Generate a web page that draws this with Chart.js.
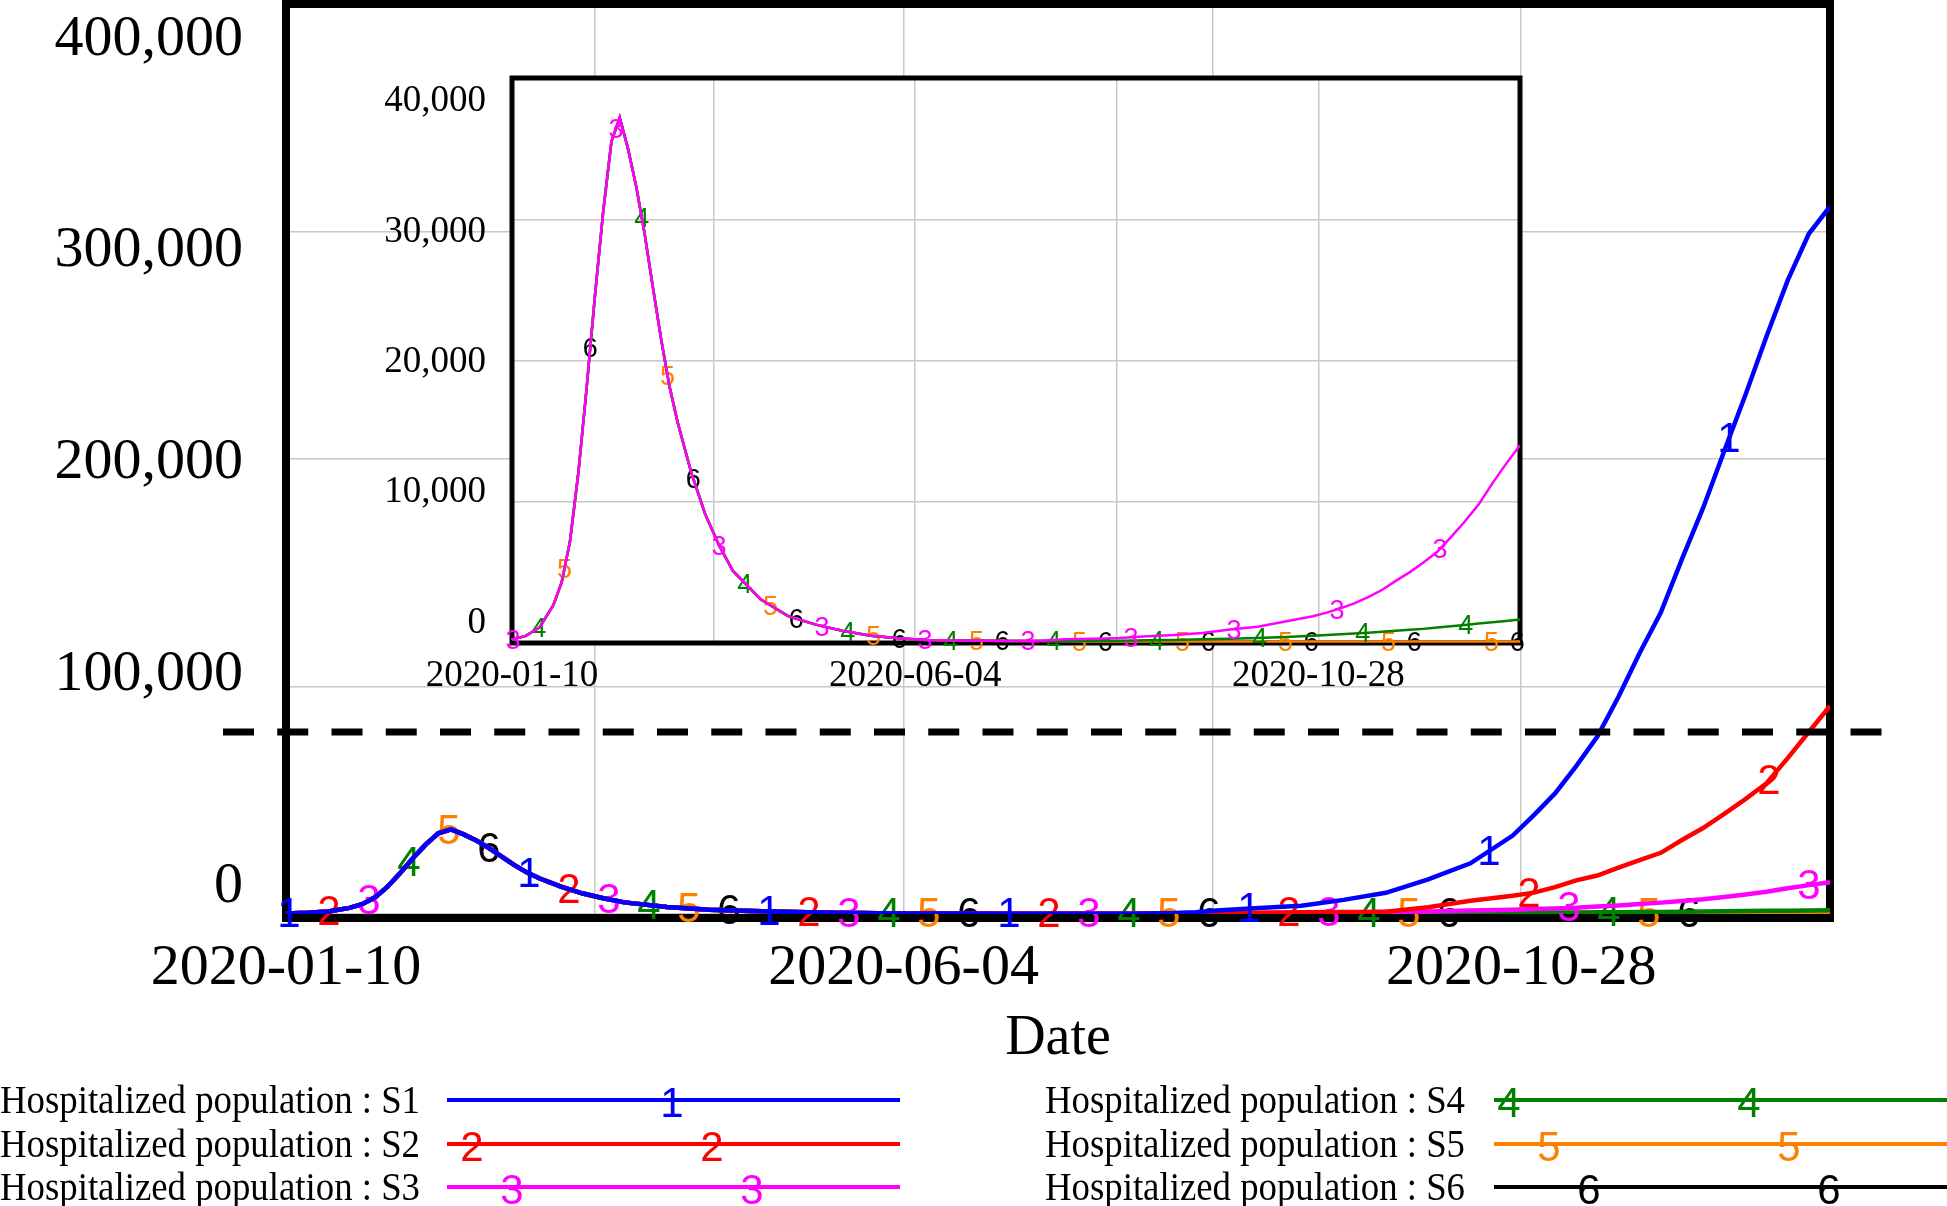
<!DOCTYPE html>
<html>
<head>
<meta charset="utf-8">
<script src="https://cdn.jsdelivr.net/npm/chart.js@4.4.1/dist/chart.umd.min.js"></script>
<style>
  html, body { margin: 0; padding: 0; background: #fff; }
  #wrap { position: relative; width: 1947px; height: 1206px; overflow: hidden; }
  #wrap canvas { position: absolute; left: 0; top: 0; }
  .lg-text { position: absolute; font: 40px "Liberation Serif", "Times New Roman", serif; line-height: 40px; white-space: nowrap; transform-origin: 0 50%; color: #000; }
  .lg-line { position: absolute; height: 4px; }
  .lg-mark { position: absolute; font: 42px "Liberation Sans", Arial, sans-serif; line-height: 42px; transform: translate(-50%, -50%); }
</style>
</head>
<body>
<div id="wrap">
  <canvas id="mainChart" width="1947" height="1206"></canvas>
  <canvas id="insetChart" width="1947" height="1206"></canvas>
  <div id="legend"></div>
</div>
<script>
// days since 2020-01-10
const days = [0, 5, 10, 15, 18, 21, 24, 27, 30, 33,
  36, 39, 42, 45, 48, 51, 54, 57, 60, 65,
  70, 75, 80, 90, 100, 110, 120, 130, 140, 150,
  160, 170, 180, 190,
  200, 210, 215, 220, 230, 240, 250, 260, 270, 280,
  290, 295, 300, 305, 310, 315, 320, 325, 330, 335,
  340, 345, 350, 355, 360, 365];

// first wave, same in every scenario (days 0-190)
const earlyAll = [250, 500, 1100, 2700, 4300, 7200, 12000, 18000, 24500, 30500,
  35500, 37200, 35000, 32300, 29000, 25200, 21500, 18200, 15600, 12000,
  9100, 6900, 5100, 3100, 1900, 1300, 850, 520, 330, 220,
  180, 160, 150, 150];

// days 200-365 per scenario
const s1Late = [150, 400, 800, 1500, 2600, 3600, 6200, 9300, 15200, 22300,
  34500, 43500, 53000, 65000, 78000, 95500, 114700, 132500, 156000, 178500,
  203500, 228100, 254000, 278500, 299000, 311000];
const s2Late = [150, 200, 250, 300, 500, 800, 900, 1000, 3000, 5800,
  8000, 9400, 11800, 14800, 16900, 20400, 23700, 26900, 32500, 37800,
  44000, 50500, 57500, 68500, 80000, 91500];
const s3Late = [260, 300, 320, 350, 480, 560, 700, 950, 1150, 1520,
  1900, 2150, 2450, 2800, 3250, 3750, 4400, 5000, 5700, 6450,
  7500, 8600, 9800, 11300, 12700, 14000];
const s4Late = [140, 150, 155, 160, 190, 220, 260, 300, 360, 430,
  520, 570, 620, 670, 730, 790, 860, 930, 1000, 1090,
  1180, 1280, 1380, 1470, 1560, 1660];
const s5Late = [120, 110, 110, 105, 100, 100, 100, 100, 100, 100,
  100, 100, 100, 100, 100, 100, 100, 100, 100, 100,
  100, 100, 100, 100, 100, 100];
const s6Late = [110, 100, 95, 90, 90, 90, 90, 90, 90, 90,
  90, 90, 90, 90, 90, 90, 90, 90, 90, 90,
  90, 90, 90, 90, 90, 90];

const s1 = earlyAll.concat(s1Late);
const s2 = earlyAll.concat(s2Late);
const s3 = earlyAll.concat(s3Late);
const s4 = earlyAll.concat(s4Late);
const s5 = earlyAll.concat(s5Late);
const s6 = earlyAll.concat(s6Late);

const seriesNames = ['Hospitalized population : S1', 'Hospitalized population : S2', 'Hospitalized population : S3',
  'Hospitalized population : S4', 'Hospitalized population : S5', 'Hospitalized population : S6'];
const seriesColors = ['#0000ff', '#ff0000', '#ff00ff', '#008000', '#ff8000', '#000000'];

const xTickDays = [0, 73, 146, 219, 292, 365];
const xTickLabels = ['2020-01-10', '', '2020-06-04', '', '2020-10-28', ''];
const mainYTicks = [0, 100000, 200000, 300000, 400000];
const insetYTicks = [0, 10000, 20000, 30000, 40000];
const capacityLine = 80000;

const SERIF = '"Liberation Serif", "Times New Roman", serif';
const SANS = '"Liberation Sans", Arial, sans-serif';
const GRID = '#c8c8c8';

function toPoints(vals) {
  return vals.map((v, i) => ({ x: days[i], y: v }));
}

function makeDataset(vals, i, width) {
  return {
    label: seriesNames[i],
    data: toPoints(vals),
    borderColor: seriesColors[i],
    borderWidth: width,
    pointRadius: 0,
    tension: 0,
    yAxisID: 'y',
    markerNo: String(i + 1)
  };
}

// thick black box round the plot, drawn under the lines
function framePlugin(lw, extraBottom, whiteBg) {
  return {
    id: 'frame',
    beforeDraw(chart) {
      if (!whiteBg) return;
      const { ctx, chartArea: a } = chart;
      ctx.save();
      ctx.fillStyle = '#fff';
      ctx.fillRect(a.left, a.top, a.right - a.left, a.bottom - a.top);
      ctx.restore();
    },
    beforeDatasetsDraw(chart) {
      const { ctx, chartArea: a } = chart;
      ctx.save();
      ctx.lineWidth = lw;
      ctx.strokeStyle = '#000';
      ctx.strokeRect(a.left, a.top, a.right - a.left, a.bottom + extraBottom - a.top);
      ctx.restore();
    }
  };
}

// numbered markers along each line, placed every `step` px and cycling over the series
function markerPlugin(start, step, font, count) {
  return {
    id: 'markers',
    afterDatasetDraw(chart, args) {
      const pts = args.meta.data;
      const ds = chart.data.datasets[args.index];
      const a = chart.chartArea;
      const ctx = chart.ctx;
      ctx.save();
      ctx.font = font;
      ctx.fillStyle = ds.borderColor;
      ctx.textAlign = 'center';
      ctx.textBaseline = 'middle';
      for (let n = args.index; ; n += count) {
        const x = a.left + start + n * step;
        if (x > a.right + 1) break;
        let y = pts[pts.length - 1].y;
        for (let j = 1; j < pts.length; j++) {
          if (pts[j].x >= x) {
            const p0 = pts[j - 1], p1 = pts[j];
            const t = (x - p0.x) / (p1.x - p0.x);
            y = p0.y + t * (p1.y - p0.y);
            break;
          }
        }
        ctx.fillText(ds.markerNo, x, y + 2);
      }
      ctx.restore();
    }
  };
}

const capacityPlugin = {
  id: 'capacity',
  afterDatasetsDraw(chart) {
    const { ctx, chartArea: a, scales } = chart;
    const y = scales.y.getPixelForValue(capacityLine);
    ctx.save();
    ctx.setLineDash([31, 23.25]);
    ctx.lineWidth = 7;
    ctx.strokeStyle = '#000';
    ctx.beginPath();
    ctx.moveTo(a.left - 63, y);
    ctx.lineTo(a.right + 52, y);
    ctx.stroke();
    ctx.restore();
  }
};

function buildScales(o) {
  return {
    x: {
      type: 'linear', min: 0, max: 365, bounds: 'data',
      afterBuildTicks: ax => { ax.ticks = xTickDays.map(v => ({ value: v })); },
      afterFit: ax => { ax.height = o.xHeight; ax.paddingLeft = 0; ax.paddingRight = 0; },
      grid: { color: GRID, lineWidth: 1.5, drawTicks: false },
      border: { display: false },
      ticks: {
        callback: (v, i) => xTickLabels[i],
        color: '#000', font: { family: SERIF, size: o.font },
        padding: o.xPad, maxRotation: 0, autoSkip: false
      },
      title: o.title ? {
        display: true, text: o.title, color: '#000',
        font: { family: SERIF, size: 56 }, padding: { top: 0, bottom: 133 }
      } : { display: false }
    },
    y: {
      type: 'linear', min: 0, max: o.yTicks[o.yTicks.length - 1], bounds: 'data',
      afterBuildTicks: ax => { ax.ticks = o.yTicks.map(v => ({ value: v })); },
      afterFit: ax => { ax.width = 0; ax.paddingTop = 0; ax.paddingBottom = 0; },
      grid: { color: GRID, lineWidth: 1.5, drawTicks: false },
      border: { display: false },
      ticks: { display: false }
    },
    yl: {
      axis: 'y', position: 'left', type: 'linear', min: o.labMin, max: o.labMax, bounds: 'data',
      afterBuildTicks: ax => { ax.ticks = o.yTicks.map(v => ({ value: v })); },
      afterFit: ax => { ax.width = o.yWidth; ax.paddingTop = 0; ax.paddingBottom = 0; },
      grid: { display: false },
      border: { display: false },
      ticks: {
        callback: v => v.toLocaleString('en-US'),
        color: '#000', font: { family: SERIF, size: o.font }, padding: o.yPad, autoSkip: false
      }
    }
  };
}

// main chart
new Chart(document.getElementById('mainChart'), {
  type: 'line',
  data: { datasets: [s1, s2, s3, s4, s5, s6].map((v, i) => makeDataset(v, i, 4.5)) },
  options: {
    responsive: false, animation: false, events: [],
    layout: { padding: { left: 0, top: 4, right: 117, bottom: 0 } },
    plugins: { legend: { display: false }, tooltip: { enabled: false } },
    scales: buildScales({
      xHeight: 292, xPad: 19.5, font: 58, title: 'Date',
      yTicks: mainYTicks, labMin: -12987, labMax: 416765, yWidth: 286, yPad: 35
    })
  },
  plugins: [framePlugin(8, 4, false), markerPlugin(3, 40, '42px ' + SANS, 6), capacityPlugin]
});

// inset: S3-S6 on a 0-40,000 scale
const insetSets = [s3, s4, s5, s6].map((v, i) => makeDataset(v, i + 2, 2.5));
new Chart(document.getElementById('insetChart'), {
  type: 'line',
  data: { datasets: insetSets },
  options: {
    responsive: false, animation: false, events: [],
    layout: { padding: { left: 0, top: 78, right: 427, bottom: 0 } },
    plugins: { legend: { display: false }, tooltip: { enabled: false } },
    scales: buildScales({
      xHeight: 563, xPad: 11.5, font: 37, title: null,
      yTicks: insetYTicks, labMin: -1534, labMax: 41802, yWidth: 512, yPad: 18
    })
  },
  plugins: [framePlugin(5, 0, true), markerPlugin(1, 25.75, '27px ' + SANS, 4)]
});

// legend
const legendEl = document.getElementById('legend');
const legendRows = [1100, 1143.6, 1187];
const legendCols = [
  { text: 0, x1: 447, x2: 900, markBase: -15 },
  { text: 1045, x1: 1494, x2: 1947, markBase: 15 }
];
seriesNames.forEach((name, i) => {
  const col = legendCols[Math.floor(i / 3)];
  const y = legendRows[i % 3];

  const t = document.createElement('div');
  t.className = 'lg-text';
  t.textContent = name;
  t.style.left = col.text + 'px';
  t.style.top = (y - 20) + 'px';
  legendEl.appendChild(t);
  const w = t.getBoundingClientRect().width;
  t.style.transform = 'scaleX(' + (420 / w) + ')';

  const line = document.createElement('div');
  line.className = 'lg-line';
  line.style.left = col.x1 + 'px';
  line.style.width = (col.x2 - col.x1) + 'px';
  line.style.top = (y - 2) + 'px';
  line.style.background = seriesColors[i];
  legendEl.appendChild(line);

  for (let m = 0; m < 3; m++) {
    const mx = col.x1 + col.markBase + (i % 3) * 40 + m * 240;
    if (mx < col.x1 || mx > col.x2) continue;
    const mk = document.createElement('div');
    mk.className = 'lg-mark';
    mk.textContent = String(i + 1);
    mk.style.color = seriesColors[i];
    mk.style.left = mx + 'px';
    mk.style.top = (y + 3) + 'px';
    legendEl.appendChild(mk);
  }
});
</script>
</body>
</html>
